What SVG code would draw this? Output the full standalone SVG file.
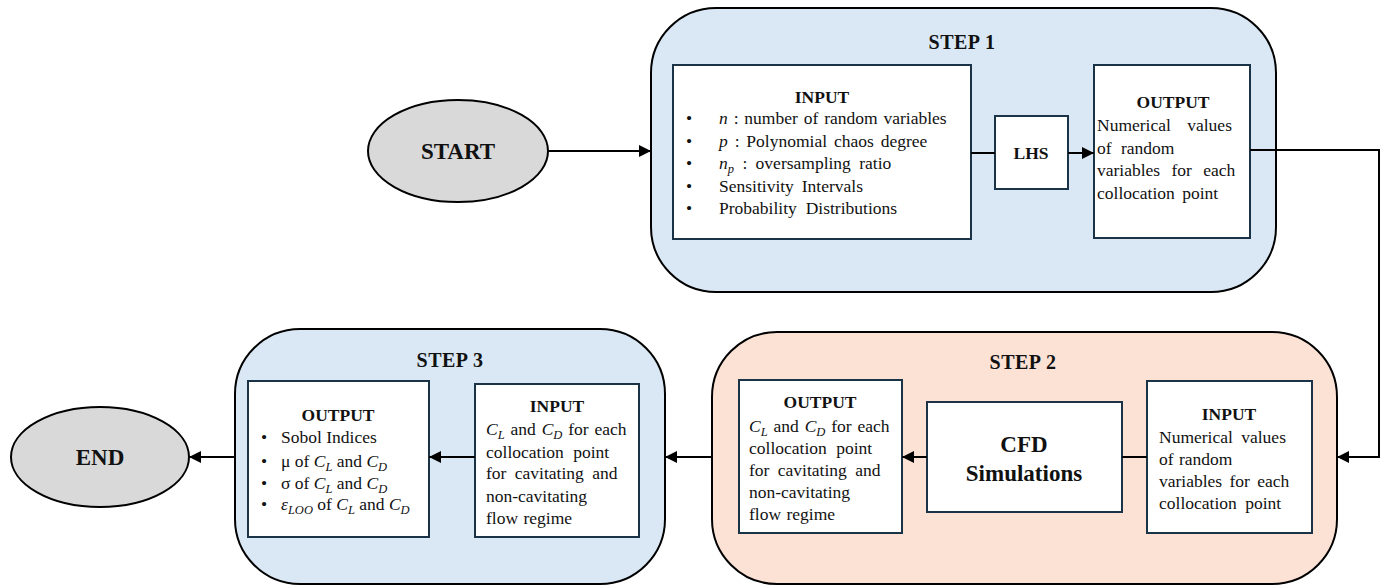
<svg xmlns="http://www.w3.org/2000/svg" width="1389" height="586" viewBox="0 0 1389 586">
<defs>
<marker id="arr" viewBox="0 0 12 12" refX="12" refY="6" markerWidth="12" markerHeight="12" markerUnits="userSpaceOnUse" orient="auto">
<path d="M0,0 L12,6 L0,12 Z" fill="#000"/>
</marker>
<style>
.cont{stroke:#000;stroke-width:2}
.blue{fill:#DAE8F5}
.peach{fill:#FBE2D5}
.box{fill:#fff;stroke:#1B3346;stroke-width:2}
.ell{fill:#D9D9D9;stroke:#000;stroke-width:2}
.t{font-family:"Liberation Serif","Times New Roman",serif;font-size:17.5px;fill:#111}
.b{font-weight:bold}
.c{text-anchor:middle}
.step{font-family:"Liberation Serif","Times New Roman",serif;font-size:20px;letter-spacing:0.5px;font-weight:bold;fill:#111;text-anchor:middle}
.big{font-family:"Liberation Serif","Times New Roman",serif;font-size:23px;font-weight:bold;fill:#111;text-anchor:middle}
.i{font-style:italic}
.s{font-style:italic;font-size:12.5px}
.ln{fill:none;stroke:#000;stroke-width:2}
</style>
</defs>

<g id="start">
<ellipse class="ell" cx="458" cy="151" rx="90" ry="51"/>
<text class="big" x="458" y="159">START</text>
</g>

<g id="step1">
<rect class="cont blue" x="651" y="8" width="625" height="284" rx="65" ry="65"/>
<text class="step" x="962" y="49">STEP 1</text>
</g>
<g id="step1-input">
<rect class="box" x="673" y="65" width="298" height="174"/>
<text class="t b c" x="822" y="103">INPUT</text>
<text class="t" x="686" y="124">•</text>
<text class="t" x="719" y="124" word-spacing="1.5"><tspan class="i">n</tspan> : number of random variables</text>
<text class="t" x="686" y="147">•</text>
<text class="t" x="719" y="147" word-spacing="2.5"><tspan class="i">p</tspan> : Polynomial chaos degree</text>
<text class="t" x="686" y="169">•</text>
<text class="t" x="719" y="169" word-spacing="4"><tspan class="i">n</tspan><tspan class="s" dy="4">p</tspan><tspan dy="-4"> : oversampling ratio</tspan></text>
<text class="t" x="686" y="192">•</text>
<text class="t" x="719" y="192" word-spacing="3.5">Sensitivity Intervals</text>
<text class="t" x="686" y="214">•</text>
<text class="t" x="719" y="214" word-spacing="4.5">Probability Distributions</text>
</g>
<g id="lhs">
<rect class="box" x="995" y="116" width="73" height="73"/>
<text class="t b c" x="1031" y="159">LHS</text>
</g>
<g id="step1-output">
<rect class="box" x="1094" y="65" width="156" height="173"/>
<text class="t b c" x="1173" y="108">OUTPUT</text>
<text class="t" x="1097" y="131" word-spacing="12">Numerical values</text>
<text class="t" x="1097" y="154" word-spacing="5">of random</text>
<text class="t" x="1097" y="176" word-spacing="7">variables for each</text>
<text class="t" x="1097" y="199" word-spacing="3">collocation point</text>
</g>

<g id="step2">
<rect class="cont peach" x="712" y="332" width="625" height="252" rx="65" ry="65"/>
<text class="step" x="1023" y="369">STEP 2</text>
</g>
<g id="step2-input">
<rect class="box" x="1147" y="381" width="165" height="152"/>
<text class="t b c" x="1229" y="420">INPUT</text>
<text class="t" x="1159" y="443" word-spacing="4">Numerical values</text>
<text class="t" x="1159" y="465" word-spacing="1">of random</text>
<text class="t" x="1159" y="487" word-spacing="3">variables for each</text>
<text class="t" x="1159" y="509" word-spacing="4">collocation point</text>
</g>
<g id="cfd">
<rect class="box" x="927" y="402" width="195" height="110"/>
<text class="big" x="1024" y="452">CFD</text>
<text class="big" x="1024" y="481">Simulations</text>
</g>
<g id="step2-output">
<rect class="box" x="739" y="380" width="163" height="153"/>
<text class="t b c" x="820" y="408">OUTPUT</text>
<text class="t" x="749" y="432" word-spacing="1.5"><tspan class="i">C</tspan><tspan class="s" dy="4">L</tspan><tspan dy="-4"> and </tspan><tspan class="i">C</tspan><tspan class="s" dy="4">D</tspan><tspan dy="-4"> for each</tspan></text>
<text class="t" x="749" y="454" word-spacing="5">collocation point</text>
<text class="t" x="749" y="476" word-spacing="4">for cavitating and</text>
<text class="t" x="749" y="498">non-cavitating</text>
<text class="t" x="749" y="520" word-spacing="1">flow regime</text>
</g>

<g id="step3">
<rect class="cont blue" x="235" y="329" width="430" height="255" rx="65" ry="65"/>
<text class="step" x="450" y="367">STEP 3</text>
</g>
<g id="step3-input">
<rect class="box" x="475" y="384" width="164" height="153"/>
<text class="t b c" x="557" y="412">INPUT</text>
<text class="t" x="486" y="435" word-spacing="1.5"><tspan class="i">C</tspan><tspan class="s" dy="4">L</tspan><tspan dy="-4"> and </tspan><tspan class="i">C</tspan><tspan class="s" dy="4">D</tspan><tspan dy="-4"> for each</tspan></text>
<text class="t" x="486" y="458" word-spacing="5">collocation point</text>
<text class="t" x="486" y="479" word-spacing="4">for cavitating and</text>
<text class="t" x="486" y="502">non-cavitating</text>
<text class="t" x="486" y="524" word-spacing="1">flow regime</text>
</g>
<g id="step3-output">
<rect class="box" x="248" y="381" width="181" height="156"/>
<text class="t b c" x="338" y="421">OUTPUT</text>
<text class="t" x="261" y="443">•</text>
<text class="t" x="281" y="443">Sobol Indices</text>
<text class="t" x="261" y="467">•</text>
<text class="t" x="281" y="467">μ of <tspan class="i">C</tspan><tspan class="s" dy="4">L</tspan><tspan dy="-4"> and </tspan><tspan class="i">C</tspan><tspan class="s" dy="4">D</tspan></text>
<text class="t" x="261" y="489">•</text>
<text class="t" x="281" y="489">σ of <tspan class="i">C</tspan><tspan class="s" dy="4">L</tspan><tspan dy="-4"> and </tspan><tspan class="i">C</tspan><tspan class="s" dy="4">D</tspan></text>
<text class="t" x="261" y="510">•</text>
<text class="t" x="281" y="510"><tspan class="i">ε</tspan><tspan class="s" dy="4">LOO</tspan><tspan dy="-4"> of </tspan><tspan class="i">C</tspan><tspan class="s" dy="4">L</tspan><tspan dy="-4"> and </tspan><tspan class="i">C</tspan><tspan class="s" dy="4">D</tspan></text>
</g>

<g id="end">
<ellipse class="ell" cx="100" cy="457" rx="89" ry="50"/>
<text class="big" x="100" y="465">END</text>
</g>

<g id="connectors">
<path class="ln" d="M548,151 H651" marker-end="url(#arr)"/>
<path class="ln" d="M971,153 H995"/>
<path class="ln" d="M1068,153 H1094" marker-end="url(#arr)"/>
<path class="ln" d="M1250,150 H1379 V457 H1337" marker-end="url(#arr)"/>
<path class="ln" d="M1147,457 H1122"/>
<path class="ln" d="M927,457 H902" marker-end="url(#arr)"/>
<path class="ln" d="M712,457 H665" marker-end="url(#arr)"/>
<path class="ln" d="M475,457 H429" marker-end="url(#arr)"/>
<path class="ln" d="M235,457 H189" marker-end="url(#arr)"/>
</g>
</svg>
